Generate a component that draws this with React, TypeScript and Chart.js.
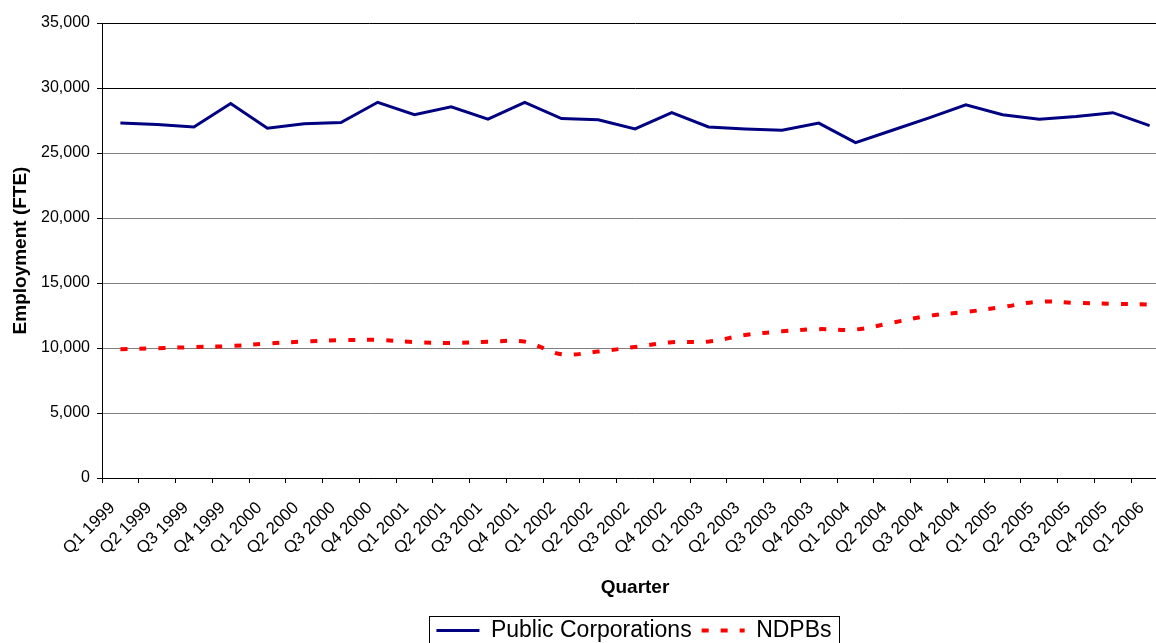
import React, { useEffect, useRef } from "react";
import { Chart, registerables } from "chart.js";

Chart.register(...registerables);

const quarters = [
  "Q1 1999", "Q2 1999", "Q3 1999", "Q4 1999",
  "Q1 2000", "Q2 2000", "Q3 2000", "Q4 2000",
  "Q1 2001", "Q2 2001", "Q3 2001", "Q4 2001",
  "Q1 2002", "Q2 2002", "Q3 2002", "Q4 2002",
  "Q1 2003", "Q2 2003", "Q3 2003", "Q4 2003",
  "Q1 2004", "Q2 2004", "Q3 2004", "Q4 2004",
  "Q1 2005", "Q2 2005", "Q3 2005", "Q4 2005",
  "Q1 2006",
];

const publicCorporations = [
  27300, 27200, 27000, 28800,
  26900, 27250, 27350, 28900,
  27950, 28550, 27600, 28900,
  27650, 27550, 26850, 28100,
  27000, 26850, 26750, 27300,
  25800, 26750, 27700, 28700,
  27950, 27600, 27800, 28100,
  27100,
];

const ndpbs = [
  9900, 9980, 10070, 10150,
  10340, 10500, 10600, 10620,
  10450, 10380, 10480, 10490,
  9520, 9730, 10080, 10450,
  10490, 11000, 11280, 11450,
  11420, 11950, 12480, 12770,
  13150, 13570, 13470, 13400,
  13350,
];

const yTickValues = [0, 5000, 10000, 15000, 20000, 25000, 30000, 35000];

const FONT = "'Liberation Sans', Arial, Helvetica, sans-serif";

const legendBorder = {
  id: "legendBorder",
  afterDraw(chart: any) {
    const lg = chart.legend;
    if (!lg || !lg.legendHitBoxes || !lg.legendHitBoxes.length) return;
    const hb = lg.legendHitBoxes;
    const left = Math.min(...hb.map((h: any) => h.left)) - 7;
    const right = Math.max(...hb.map((h: any) => h.left + h.width)) + 8;
    const top = lg.top + 7;
    const ctx = chart.ctx;
    ctx.save();
    ctx.strokeStyle = "#000";
    ctx.lineWidth = 1;
    ctx.setLineDash([]);
    ctx.strokeRect(Math.round(left) + 0.5, Math.round(top) + 0.5, Math.round(right - left), lg.bottom + 20 - top);
    ctx.restore();
  },
};

export default function App() {
  const ref = useRef<HTMLCanvasElement | null>(null);

  useEffect(() => {
    if (!ref.current) return;
    const chart = new Chart(ref.current, {
      type: "line",
      data: {
        labels: quarters,
        datasets: [
          {
            label: "Public Corporations",
            data: publicCorporations,
            borderColor: "#000080",
            backgroundColor: "#000080",
            borderWidth: 3,
            pointRadius: 0,
            pointStyle: "line",
            tension: 0,
            yAxisID: "y",
          },
          {
            label: "NDPBs",
            data: ndpbs,
            borderColor: "#FF0000",
            backgroundColor: "#FF0000",
            borderWidth: 4,
            borderDash: [7, 12],
            pointRadius: 0,
            pointStyle: "line",
            tension: 0.35,
            yAxisID: "y",
          },
        ],
      },
      options: {
        responsive: false,
        animation: false,
        layout: { padding: { top: 23, left: 0, right: 0, bottom: 0 } },
        plugins: {
          legend: {
            position: "bottom",
            labels: {
              usePointStyle: true,
              pointStyle: "line",
              pointStyleWidth: 43,
              font: { size: 23, family: FONT },
              color: "#000",
              padding: 10,
              generateLabels: (c: any) => {
                const items = (Chart as any).defaults.plugins.legend.labels.generateLabels(c);
                items.forEach((it: any) => {
                  const ds: any = c.data.datasets[it.datasetIndex];
                  it.lineDash = ds.borderDash || [];
                  it.lineWidth = ds.borderWidth;
                  it.strokeStyle = ds.borderColor;
                  it.fillStyle = ds.borderColor;
                });
                return items;
              },
            },
          },
          tooltip: { enabled: false },
        },
        scales: {
          x: {
            offset: true,
            grid: {
              offset: true,
              drawOnChartArea: false,
              drawTicks: true,
              tickLength: 5,
              tickColor: "#000",
            },
            border: { color: "#000", width: 1 },
            ticks: {
              autoSkip: false,
              minRotation: 45,
              maxRotation: 45,
              color: "#000",
              font: { size: 17, family: FONT },
              padding: 15,
              labelOffset: -8,
            },
            title: {
              display: true,
              text: "Quarter",
              color: "#000",
              font: { size: 19, weight: "bold", family: FONT },
              padding: { top: 0, bottom: 10 },
            },
            afterFit: (s: any) => {
              s.height = 131;
            },
          },
          y: {
            min: 0,
            max: 35000,
            afterBuildTicks: (s: any) => {
              s.ticks = yTickValues.map((v) => ({ value: v }));
            },
            ticks: {
              color: "#000",
              font: { size: 16, family: FONT },
              padding: 7,
              callback: (v: any) => Number(v).toLocaleString("en-US"),
            },
            grid: {
              color: (c: any) => (c.tick && c.tick.value >= 30000 ? "#000" : "#808080"),
              tickColor: "#000",
              tickLength: 5,
              drawTicks: true,
            },
            border: { color: "#000", width: 1 },
            title: {
              display: true,
              text: "Employment (FTE)",
              color: "#000",
              font: { size: 19, weight: "bold", family: FONT },
              padding: { top: 9, bottom: 0 },
            },
            afterFit: (s: any) => {
              s.width = 102;
            },
          },
          yR: {
            position: "right",
            display: true,
            grid: { display: false, drawTicks: false },
            border: { display: false },
            ticks: { display: false },
            afterFit: (s: any) => {
              s.width = 100;
            },
          },
        },
      },
      plugins: [legendBorder],
    });
    return () => chart.destroy();
  }, []);

  return (
    <div
      style={{
        position: "fixed",
        left: 0,
        top: 0,
        width: 1156,
        height: 643,
        overflow: "hidden",
        background: "#fff",
      }}
    >
      <canvas ref={ref} width={1268} height={652} style={{ display: "block", width: 1268, height: 652 }} />
    </div>
  );
}
